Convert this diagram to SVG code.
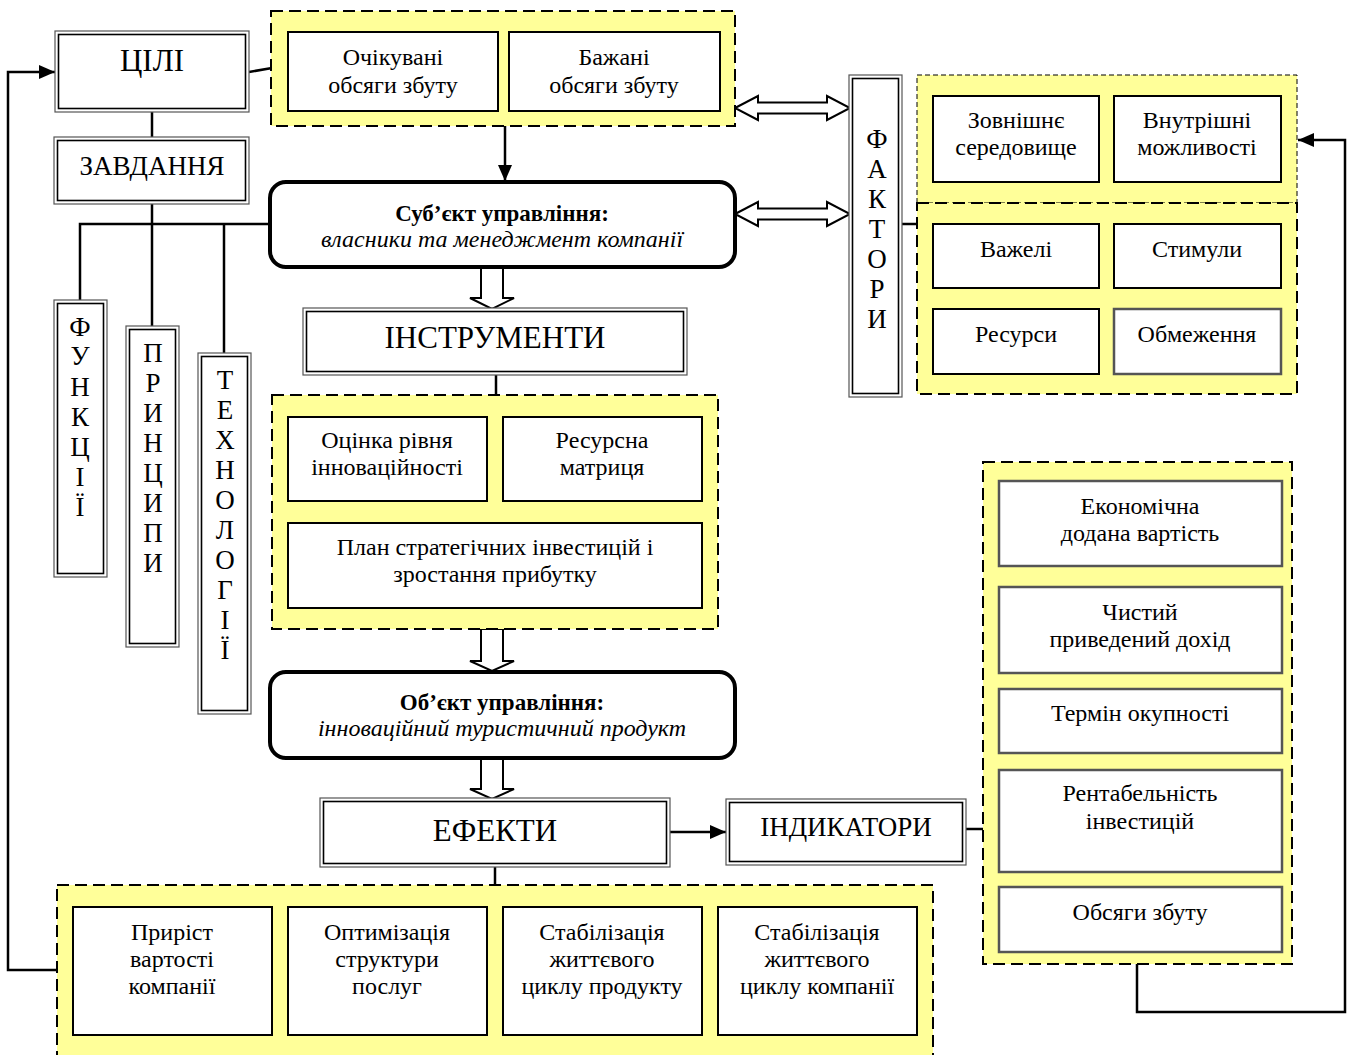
<svg xmlns="http://www.w3.org/2000/svg" width="1352" height="1055" viewBox="0 0 1352 1055">
  <defs>
    <style>
      text { font-family: "Liberation Serif", "Times New Roman", serif; fill: #000; text-anchor: middle; }
      .t22 { font-size: 24px; }
      .t24 { font-size: 27px; }
      .t26 { font-size: 27px; }
      .t30 { font-size: 31px; }
      .b { font-weight: bold; font-size: 23px; }
      .i { font-style: italic; }
      .outer { fill: #fff; stroke: #555; stroke-width: 1.2; }
      .inner { fill: none; stroke: #000; stroke-width: 1.6; }
      .box { fill: #fff; stroke: #000; stroke-width: 2; }
      .gbox { fill: #fff; stroke: #555; stroke-width: 2.5; }
      .zone { fill: #ffff99; stroke: #000; stroke-width: 2; stroke-dasharray: 12 6; }
      .zone-thin { fill: #ffff99; stroke: #000; stroke-width: 1; stroke-dasharray: 5 3; }
      .round { fill: #fff; stroke: #000; stroke-width: 4; }
      .line { fill: none; stroke: #000; stroke-width: 2.5; }
      .hollow { fill: #fff; stroke: #000; stroke-width: 2; stroke-linejoin: miter; }
    </style>
    <marker id="head" markerUnits="userSpaceOnUse" markerWidth="17" markerHeight="14" refX="16" refY="7" orient="auto">
      <path d="M0,0 L16,7 L0,14 Z" fill="#000"/>
    </marker>
  </defs>

  <!-- connectors -->
  <g id="connectors">
    <line class="line" x1="249" y1="72" x2="272" y2="68"/>
    <line class="line" x1="152" y1="112" x2="152" y2="137"/>
    <polyline class="line" points="152,204 152,326"/>
    <polyline class="line" points="80,300 80,224 270,224"/>
    <line class="line" x1="224" y1="224" x2="224" y2="353"/>
    <line class="line" x1="505" y1="126" x2="505" y2="181" marker-end="url(#head)"/>
    <line class="line" x1="496" y1="375" x2="496" y2="395"/>
    <line class="line" x1="495" y1="867" x2="495" y2="885"/>
    <line class="line" x1="670" y1="832" x2="726" y2="832" marker-end="url(#head)"/>
    <line class="line" x1="966" y1="829" x2="983" y2="829"/>
    <polyline class="line" points="902,224 917,224"/>
    <polyline class="line" points="57,970 8,970 8,72 55,72" marker-end="url(#head)"/>
    <polyline class="line" points="1137,964 1137,1012 1345,1012 1345,140 1298,140" marker-end="url(#head)"/>
    <!-- hollow block arrows -->
    <polygon class="hollow" points="481,267 503,267 503,298 514,298 492,309 470,298 481,298"/>
    <polygon class="hollow" points="481,629 503,629 503,661 514,661 492,671 470,661 481,661"/>
    <polygon class="hollow" points="481,758 503,758 503,789 514,789 492,799 470,789 481,789"/>
    <polygon class="hollow" points="735,108 758,96 758,102.5 827,102.5 827,96 850,108 827,120 827,113.5 758,113.5 758,120"/>
    <polygon class="hollow" points="735,214 758,202 758,208.5 827,208.5 827,202 850,214 827,226 827,219.5 758,219.5 758,226"/>
  </g>

  <!-- goals -->
  <g id="goals">
    <rect class="outer" x="55" y="31" width="194" height="81"/>
    <rect class="inner" x="58.5" y="34.5" width="187" height="74"/>
    <text class="t30" x="152" y="71">ЦІЛІ</text>
  </g>
  <g id="tasks">
    <rect class="outer" x="54" y="137" width="195" height="67"/>
    <rect class="inner" x="57.5" y="140.5" width="188" height="60"/>
    <text class="t26" x="152" y="175">ЗАВДАННЯ</text>
  </g>

  <g id="functions">
    <rect class="outer" x="54" y="300" width="53" height="277"/>
    <rect class="inner" x="57.5" y="303.5" width="46" height="270"/>
    <text class="t24" x="80" y="336">Ф</text>
    <text class="t24" x="80" y="365">У</text>
    <text class="t24" x="80" y="396">Н</text>
    <text class="t24" x="80" y="426">К</text>
    <text class="t24" x="80" y="456">Ц</text>
    <text class="t24" x="80" y="486">І</text>
    <text class="t24" x="80" y="516">Ї</text>
  </g>
  <g id="principles">
    <rect class="outer" x="126" y="326" width="53" height="321"/>
    <rect class="inner" x="129.5" y="329.5" width="46" height="314"/>
    <text class="t24" x="153" y="362">П</text>
    <text class="t24" x="153" y="392">Р</text>
    <text class="t24" x="153" y="422">И</text>
    <text class="t24" x="153" y="452">Н</text>
    <text class="t24" x="153" y="482">Ц</text>
    <text class="t24" x="153" y="512">И</text>
    <text class="t24" x="153" y="542">П</text>
    <text class="t24" x="153" y="572">И</text>
  </g>
  <g id="technologies">
    <rect class="outer" x="198" y="353" width="53" height="361"/>
    <rect class="inner" x="201.5" y="356.5" width="46" height="354"/>
    <text class="t24" x="225" y="389">Т</text>
    <text class="t24" x="225" y="419">Е</text>
    <text class="t24" x="225" y="449">Х</text>
    <text class="t24" x="225" y="479">Н</text>
    <text class="t24" x="225" y="509">О</text>
    <text class="t24" x="225" y="539">Л</text>
    <text class="t24" x="225" y="569">О</text>
    <text class="t24" x="225" y="599">Г</text>
    <text class="t24" x="225" y="629">І</text>
    <text class="t24" x="225" y="659">Ї</text>
  </g>

  <!-- sales volumes -->
  <g id="sales">
    <rect class="zone" x="271" y="11" width="464" height="115"/>
    <rect class="box" x="288" y="32" width="210" height="79"/>
    <text class="t22" x="393" y="65">Очікувані</text>
    <text class="t22" x="393" y="93">обсяги збуту</text>
    <rect class="box" x="509" y="32" width="211" height="79"/>
    <text class="t22" x="614" y="65">Бажані</text>
    <text class="t22" x="614" y="93">обсяги збуту</text>
  </g>

  <g id="subject">
    <rect class="round" x="270" y="182" width="465" height="85" rx="16"/>
    <text class="b" x="502" y="221">Суб’єкт управління:</text>
    <text class="t22 i" x="502" y="247">власники та менеджмент компанії</text>
  </g>

  <g id="instruments">
    <rect class="outer" x="303" y="308" width="384" height="67"/>
    <rect class="inner" x="306.5" y="311.5" width="377" height="60"/>
    <text class="t30" x="495" y="348">ІНСТРУМЕНТИ</text>
  </g>

  <g id="tools">
    <rect class="zone" x="272" y="395" width="446" height="234"/>
    <rect class="box" x="288" y="417" width="199" height="84"/>
    <text class="t22" x="387" y="448">Оцінка рівня</text>
    <text class="t22" x="387" y="475">інноваційності</text>
    <rect class="box" x="503" y="417" width="199" height="84"/>
    <text class="t22" x="602" y="448">Ресурсна</text>
    <text class="t22" x="602" y="475">матриця</text>
    <rect class="box" x="288" y="523" width="414" height="85"/>
    <text class="t22" x="495" y="555">План стратегічних інвестицій і</text>
    <text class="t22" x="495" y="582">зростання прибутку</text>
  </g>

  <g id="object">
    <rect class="round" x="270" y="672" width="465" height="86" rx="16"/>
    <text class="b" x="502" y="710">Об’єкт управління:</text>
    <text class="t22 i" x="502" y="736">інноваційний туристичний продукт</text>
  </g>

  <g id="effects">
    <rect class="outer" x="320" y="798" width="350" height="69"/>
    <rect class="inner" x="323.5" y="801.5" width="343" height="62"/>
    <text class="t30" x="495" y="841">ЕФЕКТИ</text>
  </g>

  <g id="indicators">
    <rect class="outer" x="726" y="799" width="240" height="66"/>
    <rect class="inner" x="729.5" y="802.5" width="233" height="59"/>
    <text class="t26" x="846" y="836">ІНДИКАТОРИ</text>
  </g>

  <g id="results">
    <rect class="zone" x="57" y="885" width="876" height="185"/>
    <rect class="box" x="73" y="907" width="199" height="128"/>
    <text class="t22" x="172" y="940">Приріст</text>
    <text class="t22" x="172" y="967">вартості</text>
    <text class="t22" x="172" y="994">компанії</text>
    <rect class="box" x="288" y="907" width="199" height="128"/>
    <text class="t22" x="387" y="940">Оптимізація</text>
    <text class="t22" x="387" y="967">структури</text>
    <text class="t22" x="387" y="994">послуг</text>
    <rect class="box" x="503" y="907" width="199" height="128"/>
    <text class="t22" x="602" y="940">Стабілізація</text>
    <text class="t22" x="602" y="967">життєвого</text>
    <text class="t22" x="602" y="994">циклу продукту</text>
    <rect class="box" x="718" y="907" width="199" height="128"/>
    <text class="t22" x="817" y="940">Стабілізація</text>
    <text class="t22" x="817" y="967">життєвого</text>
    <text class="t22" x="817" y="994">циклу компанії</text>
  </g>

  <g id="factors">
    <rect class="outer" x="849" y="75" width="53" height="322"/>
    <rect class="inner" x="852.5" y="78.5" width="46" height="315"/>
    <text class="t24" x="877" y="148">Ф</text>
    <text class="t24" x="877" y="178">А</text>
    <text class="t24" x="877" y="208">К</text>
    <text class="t24" x="877" y="238">Т</text>
    <text class="t24" x="877" y="268">О</text>
    <text class="t24" x="877" y="298">Р</text>
    <text class="t24" x="877" y="328">И</text>
  </g>

  <g id="environment">
    <rect class="zone-thin" x="917" y="75" width="380" height="128"/>
    <rect class="box" x="933" y="96" width="166" height="86"/>
    <text class="t22" x="1016" y="128">Зовнішнє</text>
    <text class="t22" x="1016" y="155">середовище</text>
    <rect class="box" x="1114" y="96" width="167" height="86"/>
    <text class="t22" x="1197" y="128">Внутрішні</text>
    <text class="t22" x="1197" y="155">можливості</text>
  </g>

  <g id="levers">
    <rect class="zone" x="917" y="203" width="380" height="191"/>
    <rect class="box" x="933" y="224" width="166" height="64"/>
    <text class="t22" x="1016" y="257">Важелі</text>
    <rect class="box" x="1114" y="224" width="167" height="64"/>
    <text class="t22" x="1197" y="257">Стимули</text>
    <rect class="box" x="933" y="309" width="166" height="65"/>
    <text class="t22" x="1016" y="342">Ресурси</text>
    <rect class="gbox" x="1114" y="309" width="167" height="65"/>
    <text class="t22" x="1197" y="342">Обмеження</text>
  </g>

  <g id="metrics">
    <rect class="zone" x="983" y="462" width="309" height="502"/>
    <rect class="gbox" x="999" y="481" width="283" height="85"/>
    <text class="t22" x="1140" y="514">Економічна</text>
    <text class="t22" x="1140" y="541">додана вартість</text>
    <rect class="gbox" x="999" y="587" width="283" height="86"/>
    <text class="t22" x="1140" y="620">Чистий</text>
    <text class="t22" x="1140" y="647">приведений дохід</text>
    <rect class="gbox" x="999" y="689" width="283" height="64"/>
    <text class="t22" x="1140" y="721">Термін окупності</text>
    <rect class="gbox" x="999" y="770" width="283" height="102"/>
    <text class="t22" x="1140" y="801">Рентабельність</text>
    <text class="t22" x="1140" y="829">інвестицій</text>
    <rect class="gbox" x="999" y="887" width="283" height="65"/>
    <text class="t22" x="1140" y="920">Обсяги збуту</text>
  </g>
</svg>
